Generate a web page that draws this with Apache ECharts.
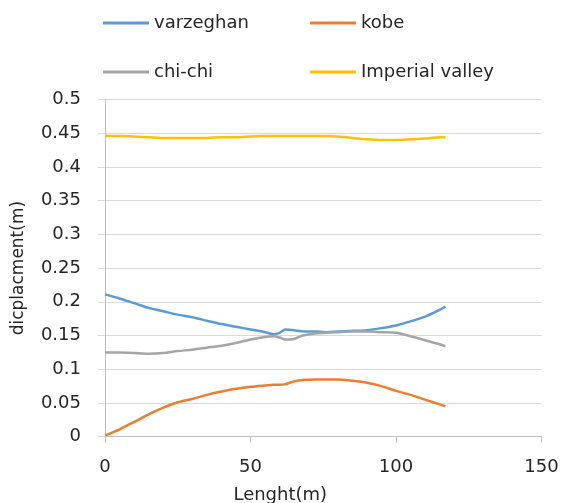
<!DOCTYPE html>
<html>
<head>
<meta charset="utf-8">
<script src="https://cdn.jsdelivr.net/npm/echarts@6/dist/echarts.min.js"></script>
<style>
html,body{margin:0;padding:0;background:#fff;}
#c{width:563px;height:503px;}
</style>
</head>
<body>
<div id="c"></div>
<script>
var xs = [0,5,10,15,20,25,30,35,40,45,50,55,58,60,62,65,68,72,76,80,85,90,95,100,105,110,115,117];
var varzeghan = [0.211,0.205,0.198,0.191,0.186,0.181,0.177,0.172,0.167,0.163,0.159,0.155,0.152,0.154,0.159,0.158,0.156,0.156,0.155,0.156,0.157,0.158,0.161,0.165,0.171,0.178,0.188,0.193];
var kobe = [0.002,0.011,0.022,0.033,0.043,0.051,0.056,0.062,0.067,0.071,0.074,0.076,0.077,0.077,0.078,0.082,0.084,0.085,0.085,0.085,0.083,0.080,0.075,0.068,0.062,0.055,0.048,0.045];
var chichi = [0.125,0.125,0.124,0.123,0.124,0.127,0.129,0.132,0.135,0.139,0.144,0.148,0.149,0.147,0.144,0.145,0.150,0.153,0.154,0.155,0.156,0.156,0.155,0.154,0.149,0.143,0.137,0.134];
var imperial = [0.446,0.446,0.445,0.444,0.443,0.443,0.443,0.443,0.444,0.444,0.445,0.446,0.446,0.446,0.446,0.446,0.446,0.446,0.446,0.445,0.443,0.441,0.440,0.440,0.441,0.442,0.444,0.444];
var names = ['varzeghan','kobe','chi-chi','Imperial valley'];
var colors = ['#5B9BD5','#ED7D31','#A5A5A5','#FFC000'];
var seriesVals = [varzeghan, kobe, chichi, imperial];

function pairs(v){ return xs.map(function(x,i){ return [x, v[i]]; }); }

var font = 'DejaVu Sans';
var legendPos = [[103,13],[310,13],[103,62],[310,62]];
var legends = names.map(function(n,i){
  return {
    data:[n], left:legendPos[i][0], top:legendPos[i][1],
    icon:'rect', itemWidth:46, itemHeight:3, padding:0,
    textStyle:{fontFamily:font, fontSize:18, color:'#262626', lineHeight:20}
  };
});

var chart = echarts.init(document.getElementById('c'));
chart.setOption({
  backgroundColor:'#fff',
  animation:false,
  color: colors,
  legend: legends,
  grid:{left:105, right:21.5, top:99.5, bottom:66.3, containLabel:false, outerBoundsMode:'none'},
  xAxis:{
    type:'value', min:0, max:150, interval:50,
    name:'Lenght(m)', nameLocation:'middle', nameGap:50,
    nameTextStyle:{fontFamily:font, fontSize:18, color:'#262626', padding:[0,86,0,0]},
    axisLine:{show:true, lineStyle:{color:'#BFBFBF', width:1}},
    axisTick:{show:true, length:6, lineStyle:{color:'#BFBFBF'}},
    axisLabel:{fontFamily:font, fontSize:18, color:'#262626', margin:22},
    splitLine:{show:false}
  },
  yAxis:{
    type:'value', min:0, max:0.5, interval:0.05,
    name:'dicplacment(m)', nameLocation:'middle', nameGap:78, nameRotate:90,
    nameTextStyle:{fontFamily:font, fontSize:17, color:'#262626'},
    axisLine:{show:true, lineStyle:{color:'#BFBFBF', width:1}},
    axisTick:{show:true, length:7, lineStyle:{color:'#D9D9D9'}},
    axisLabel:{fontFamily:font, fontSize:18, color:'#262626', margin:24},
    splitLine:{show:true, lineStyle:{color:'#D9D9D9', width:1}}
  },
  series: names.map(function(n,i){
    return {
      name:n, type:'line', data:pairs(seriesVals[i]),
      smooth:0.3, symbol:'none', showSymbol:false,
      lineStyle:{width:2.5, color:colors[i]},
      itemStyle:{color:colors[i]}
    };
  })
});
</script>
</body>
</html>
